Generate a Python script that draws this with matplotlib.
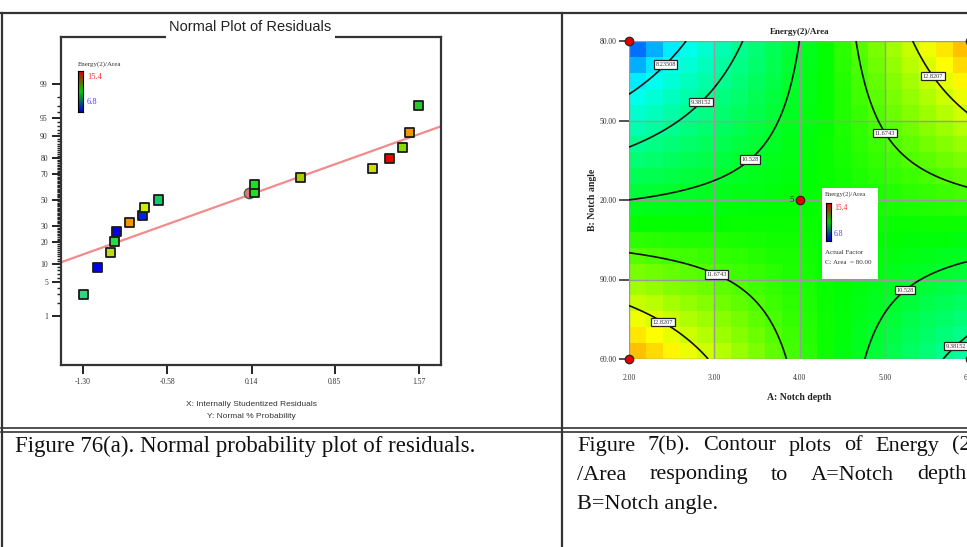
import numpy as np
import matplotlib
matplotlib.use("Agg")
import matplotlib.pyplot as plt
from matplotlib.colors import LinearSegmentedColormap
from matplotlib.patches import Rectangle
from statistics import NormalDist

# ---- data: normal plot of residuals ----
resid = [-1.300, -1.172, -1.061, -1.035, -1.018, -0.907, -0.796, -0.779, -0.651,
         0.169, 0.169, 0.554, 1.177, 1.322, 1.433, 1.485, 1.562]
norm_pct = [2.9, 8.8, 14.7, 20.6, 26.5, 32.4, 38.2, 44.1, 50.0,
            55.9, 61.8, 67.6, 73.5, 79.4, 85.3, 91.2, 97.1]
point_colors = ['#22dd80', '#0000ee', '#bbdd11', '#22dd44', '#0000ee', '#ee9900',
                '#0022ee', '#ccee00', '#11cc66', '#22dd22', '#22dd22', '#aacc00',
                '#ccdd00', '#ee0000', '#88dd00', '#ee9900', '#22cc22']
center_resid = [0.118]
center_pct = [55.9]
ref_x = [-1.49, 1.76]
ref_pct = [10.6, 93.0]
x_ticks = [-1.30, -0.58, 0.14, 0.85, 1.57]
x_ticklabels = ['-1.30', '-0.58', '0.14', '0.85', '1.57']
y_ticks = [1, 5, 10, 20, 30, 50, 70, 80, 90, 95, 99]

# ---- data: contour of Energy(2)/Area (fitted model, coded units) ----
b0, bA, bB, bAB = 11.007, 0.477, -0.477, 2.973
levels = [8.23508, 9.38152, 10.528, 11.6743, 12.8207]
label_pos = [(2.40, 172), (2.81, 158), (3.40, 136), (5.04, 146), (5.60, 167.5),
             (3.03, 92), (2.40, 74), (5.20, 87.5), (5.80, 66)]
design_depth = [2, 2, 4, 6, 6]
design_angle = [180, 60, 120, 180, 60]
depth_ticks = [2, 3, 4, 5, 6]
depth_labels = ['2.00', '3.00', '4.00', '5.00', '6.00']
angle_ticks = [60, 90, 120, 150, 180]
angle_labels = ['60.00', '90.00', '20.00', '50.00', '80.00']
cbar_min, cbar_max = 6.8, 15.4

W, H = 967, 547
fig = plt.figure(figsize=(W / 100, H / 100), dpi=100)


def px_axes(x0, y0, x1, y1, **kw):
    return fig.add_axes([x0 / W, 1 - y1 / H, (x1 - x0) / W, (y1 - y0) / H], **kw)


serif = 'Liberation Serif'
sans = 'Liberation Sans'

# ---------------- left: normal probability plot ----------------
nd = NormalDist()


def p_fwd(p):
    p = np.clip(np.asarray(p, float) / 100.0, 1e-9, 1 - 1e-9)
    return np.vectorize(nd.inv_cdf)(p)


def p_inv(z):
    return np.vectorize(nd.cdf)(np.asarray(z, float)) * 100.0


ax1 = px_axes(61, 37, 441, 365)
ax1.set_yscale('function', functions=(p_fwd, p_inv))
ax1.set_xlim(-1.488, 1.758)
ax1.set_ylim(p_inv(-3.3), p_inv(3.26))
ax1.plot(ref_x, ref_pct, color='#f28b8b', lw=1.6, zorder=1)
ax1.scatter(center_resid, center_pct, marker='o', s=55, facecolor='#e07878',
            edgecolor='#555555', linewidths=1.0, zorder=2)
ax1.scatter(resid, norm_pct, marker='s', s=42, c=point_colors,
            edgecolors='#1a1a1a', linewidths=1.3, zorder=3)
ax1.set_xticks(x_ticks)
ax1.set_xticklabels(x_ticklabels)
ax1.set_yticks(y_ticks)
ax1.set_yticklabels([str(v) for v in y_ticks])
ax1.set_yticks([v for v in range(2, 99) if v not in y_ticks], minor=True)
ax1.tick_params(axis='both', which='major', length=6.5, width=1.4, color='#222',
                labelsize=5.5, pad=3, labelcolor='#333')
ax1.tick_params(axis='y', which='minor', length=3, width=1.0, color='#222')
for lab in ax1.get_xticklabels() + ax1.get_yticklabels():
    lab.set_family(serif)
for s in ax1.spines.values():
    s.set_linewidth(1.6)
    s.set_color('#333333')
ax1.set_xlabel('X: Internally Studentized Residuals\nY: Normal % Probability',
               fontsize=6, family=sans, color='#333', labelpad=11, linespacing=1.9)

# ---------------- right: contour plot ----------------
ax2 = px_axes(629, 41, 970, 359)


def energy(depth, angle):
    a = (np.asarray(depth) - 4.0) / 2.0
    b = (np.asarray(angle) - 120.0) / 60.0
    return b0 + bA * a + bB * b + bAB * a * b


de_cmap = LinearSegmentedColormap.from_list(
    'de', [(0.0, '#0000ff'), (0.16, '#00ffff'), (0.49, '#00ff00'),
           (0.74, '#ffff00'), (1.0, '#ff0000')])
xe = np.linspace(2, 6, 21)
ye = np.linspace(60, 180, 21)
xc, yc = np.meshgrid((xe[:-1] + xe[1:]) / 2, (ye[:-1] + ye[1:]) / 2)
ax2.pcolormesh(xe, ye, energy(xc, yc), cmap=de_cmap, vmin=cbar_min, vmax=cbar_max,
               shading='flat', zorder=1)
xf, yf = np.meshgrid(np.linspace(2, 6, 300), np.linspace(60, 180, 300))
cs = ax2.contour(xf, yf, energy(xf, yf), levels=levels, colors='#111111',
                 linewidths=1.2, zorder=3)
clabs = ax2.clabel(cs, fmt='%g', inline=False, fontsize=4.6, manual=label_pos)
for t in clabs:
    t.set_rotation(0)
    t.set_family(serif)
    t.set_color('#333')
    t.set_bbox(dict(boxstyle='square,pad=0.25', fc='white', ec='#222', lw=0.9))
ax2.set_xlim(2, 6)
ax2.set_ylim(60, 180)
ax2.set_xticks(depth_ticks)
ax2.set_xticklabels(depth_labels)
ax2.set_yticks(angle_ticks)
ax2.set_yticklabels(angle_labels)
ax2.set_axisbelow(False)
ax2.grid(color='#9a9a9a', lw=1.0, zorder=2)
for s in ax2.spines.values():
    s.set_visible(False)
ax2.tick_params(axis='y', length=7, width=1.2, color='#333', labelsize=5.5,
                pad=2, labelcolor='#333')
ax2.tick_params(axis='x', length=0, labelsize=5.5, pad=11, labelcolor='#333')
for lab in ax2.get_xticklabels() + ax2.get_yticklabels():
    lab.set_family(serif)
ax2.scatter(design_depth, design_angle, s=38, c='#e00000', edgecolors='#222',
            linewidths=0.8, clip_on=False, zorder=6)
ax2.annotate('5', (4, 120), xytext=(-4, 0), textcoords='offset points',
             ha='right', va='center', fontsize=6.5, family=serif, color='#222')
ax2.set_title('Energy(2)/Area', fontsize=6.5, family=serif, weight='bold',
              color='#222', pad=5)
ax2.set_xlabel('A: Notch depth', fontsize=7, family=serif, weight='bold',
               color='#222', labelpad=8)
ax2.set_ylabel('B: Notch angle', fontsize=7, family=serif, weight='bold',
               color='#222', labelpad=2)

# ---------------- overlay: table, captions, legends ----------------
ov = fig.add_axes([0, 0, 1, 1], zorder=10)
ov.set_xlim(0, W)
ov.set_ylim(H, 0)
ov.axis('off')

lc = '#333333'
ov.plot([1, W], [13, 13], color=lc, lw=1.6)
ov.plot([2, 2], [13, H], color=lc, lw=1.6)
ov.plot([562, 562], [13, H], color=lc, lw=1.6)
ov.plot([1, W], [428, 428], color=lc, lw=1.2)
ov.plot([1, W], [431.5, 431.5], color=lc, lw=1.2)

# left title breaking the frame
ov.add_patch(Rectangle((166, 28), 169, 12, fc='white', ec='none'))
ov.text(250, 27, 'Normal Plot of Residuals', ha='center', va='center',
        fontsize=10.5, family=sans, color='#222')

# left legend
ov.text(78, 64, 'Energy(2)/Area', fontsize=5, family=serif, color='#333', va='center')
ov.text(87, 77, '15.4', fontsize=6, family=serif, color='#ff3030', va='center')
ov.text(87, 102, '6.8', fontsize=6, family=serif, color='#4040ff', va='center')
bar_cmap = LinearSegmentedColormap.from_list('bar', ['#0000dd', '#00cc00', '#dd0000'])
grad = np.linspace(0, 1, 64).reshape(-1, 1)
cb1 = px_axes(78, 71, 83, 112, zorder=11)
cb1.imshow(grad, cmap=bar_cmap, aspect='auto', origin='lower')
cb1.set_xticks([])
cb1.set_yticks([])

# right legend
ov.add_patch(Rectangle((822, 188), 56, 91, fc='white', ec='none'))
ov.text(825, 194, 'Energy(2)/Area', fontsize=4.8, family=serif, color='#333', va='center')
ov.text(834, 208, '15.4', fontsize=5.5, family=serif, color='#ff3030', va='center')
ov.text(834, 234, '6.8', fontsize=5.5, family=serif, color='#4040ff', va='center')
ov.text(825, 252, 'Actual Factor', fontsize=5, family=serif, color='#333', va='center')
ov.text(825, 262, 'C: Area  = 80.00', fontsize=5, family=serif, color='#333', va='center')
cb2 = px_axes(826, 203, 831, 241, zorder=11)
cb2.imshow(grad, cmap=bar_cmap, aspect='auto', origin='lower')
cb2.set_xticks([])
cb2.set_yticks([])

# captions
cap_fs = 16
renderer = fig.canvas.get_renderer()


def justified(words, x0, x1, y):
    # lay words out between x0 and x1 (pixels), like justified Word text
    texts = [ov.text(0, y, w, fontsize=cap_fs, family=serif, va='center',
                     color='#111') for w in words]
    widths = [t.get_window_extent(renderer).width for t in texts]
    gap = (x1 - x0 - sum(widths)) / (len(words) - 1)
    x = x0
    for t, w in zip(texts, widths):
        t.set_x(x)
        x += w + gap


ov.text(15, 446, 'Figure 76(a). Normal probability plot of residuals.',
        fontsize=cap_fs + 0.5, family=serif, va='center', color='#111')
justified(['Figure', '7(b).', 'Contour', 'plots', 'of', 'Energy', '(2)'], 577, 978, 446)
justified(['/Area', 'responding', 'to', 'A=Notch', 'depth'], 577, 966, 475)
ov.text(577, 504, 'B=Notch angle.', fontsize=cap_fs, family=serif, va='center', color='#111')

fig.savefig('out.png', dpi=100)
